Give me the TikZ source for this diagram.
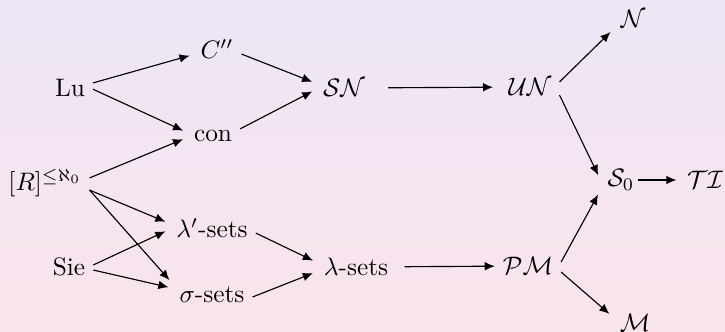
\documentclass[tikz,border=0pt]{standalone}
\usepackage{amssymb}
\usetikzlibrary{arrows.meta}
\definecolor{bgtop}{RGB}{237,230,245}
\definecolor{bgbot}{RGB}{250,228,236}
\newcommand\myconn[4]{\draw[arr] ([yshift=#2pt]#1.east) -- ([yshift=#4pt]#3.west);}
\begin{document}
\begin{tikzpicture}[x=0.395pt,y=-0.395pt,
  lbl/.style={inner sep=3pt},
  arr/.style={-{Latex[length=4pt,width=3.4pt]},line width=0.45pt,shorten >=1.2pt}]
\shade[top color=bgtop,bottom color=bgbot] (0,0) rectangle (725,332);
\useasboundingbox (0,0) rectangle (725,332);
\node[lbl] (Lu) at (70,88) {Lu};
\node[lbl] (C) at (217,49) {$C''$};
\node[lbl] (con) at (213,136) {con};
\node[lbl] (SN) at (344,88) {$\mathcal{SN}$};
\node[lbl] (UN) at (530,87) {$\mathcal{UN}$};
\node[lbl] (N) at (633,19) {$\mathcal{N}$};
\node[lbl] (R) at (45,183) {$[R]^{\le\aleph_0}$};
\node[lbl] (lp) at (212,228) {$\lambda'$-sets};
\node[lbl] (Sie) at (69,267) {Sie};
\node[lbl] (sig) at (212,295) {$\sigma$-sets};
\node[lbl] (lam) at (356,267) {$\lambda$-sets};
\node[lbl] (PM) at (528,266) {$\mathcal{PM}$};
\node[lbl] (S0) at (621,180) {$\mathcal{S}_0$};
\node[lbl] (TI) at (705,180) {$\mathcal{TI}$};
\node[lbl] (M) at (635,323) {$\mathcal{M}$};
\myconn{Lu}{2}{C}{-2.3}
\myconn{Lu}{-0.5}{con}{1.6}
\myconn{R}{2}{con}{-0.8}
\myconn{C}{-2}{SN}{2}
\myconn{con}{2.8}{SN}{-0.8}
\myconn{UN}{2}{N}{-4.3}
\myconn{UN}{-3.2}{S0}{0.8}
\myconn{R}{-2.8}{lp}{2}
\myconn{R}{-2.8}{sig}{5}
\myconn{Sie}{0.8}{lp}{-0.8}
\myconn{Sie}{-1.2}{sig}{2.8}
\myconn{lp}{-2}{lam}{2}
\myconn{sig}{-0.8}{lam}{-2}
\myconn{PM}{1.6}{S0}{-4.7}
\myconn{PM}{-2.4}{M}{2.8}
\draw[arr,shorten <=6pt,shorten >=2.9pt] (SN) -- (UN);
\draw[arr,shorten <=3.3pt,shorten >=0pt] (lam) -- (PM);
\draw[arr,shorten <=-1.8pt,shorten >=1pt] (S0) -- (TI);
\end{tikzpicture}
\end{document}
